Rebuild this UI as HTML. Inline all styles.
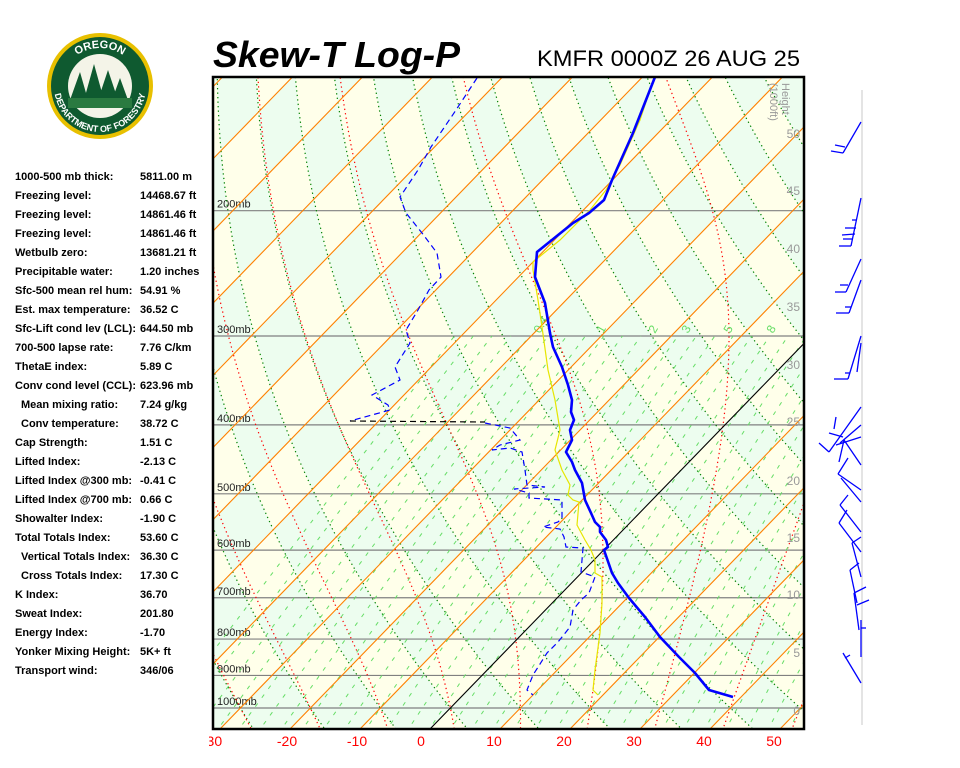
<!DOCTYPE html>
<html><head><meta charset="utf-8"><style>
html,body{margin:0;padding:0;background:#fff;width:960px;height:768px;overflow:hidden}
svg{display:block}
text{font-family:"Liberation Sans",Arial,sans-serif}
</style></head><body>
<svg id="s" width="960" height="768" viewBox="0 0 960 768" xmlns="http://www.w3.org/2000/svg">
<defs><clipPath id="c"><rect x="213" y="77" width="591" height="652"/></clipPath>
<clipPath id="lc"><rect x="209" y="730" width="700" height="30"/></clipPath>
<path id="arcT" d="M60,88 A40,40 0 0 1 140,88"/>
<path id="arcB" d="M54,86 A46,46 0 0 0 146,86"/></defs>
<!-- logo -->
<circle cx="100" cy="86" r="53" fill="#e8c000"/>
<circle cx="100" cy="86" r="49" fill="#0f5a30"/>
<circle cx="100" cy="86" r="32" fill="#f4f4e8"/>
<path d="M70,100 L80,72 L88,100Z M84,100 L94,64 L104,100Z M98,100 L108,70 L118,100Z M112,100 L120,78 L128,100Z" fill="#0f5a30"/>
<rect x="68" y="98" width="64" height="10" fill="#2a7a40"/>
<text font-size="11" font-weight="bold" fill="#fff"><textPath href="#arcT" startOffset="50%" text-anchor="middle">OREGON</textPath></text>
<text font-size="9" font-weight="bold" fill="#fff"><textPath href="#arcB" startOffset="50%" text-anchor="middle">DEPARTMENT OF FORESTRY</textPath></text>
<!-- titles -->
<text x="213" y="67" font-size="36" font-weight="bold" font-style="italic" textLength="247" lengthAdjust="spacingAndGlyphs">Skew-T Log-P</text>
<text x="537" y="66" font-size="22" textLength="263" lengthAdjust="spacingAndGlyphs">KMFR 0000Z 26 AUG 25</text>
<g id="left" font-size="11" font-weight="bold"></g>
<g clip-path="url(#c)" id="plot"></g>
<rect x="213" y="77" width="591" height="652" fill="none" stroke="#000" stroke-width="2.5"/>
<g id="axis" font-size="14" fill="#f00" text-anchor="middle" clip-path="url(#lc)"></g>
<line x1="862" y1="90" x2="862" y2="725" stroke="#e4e4e4" stroke-width="2"/>
<g id="barbs" stroke="#0000ff" stroke-width="1.3" fill="none"></g>
</svg>
<script>
const NS='http://www.w3.org/2000/svg';
const Y=p=>708-309*Math.log(1000/p);
const X=(T,p)=>430+7*T+0.97*(729-Y(p));
function el(parent,tag,attrs,txt){const e=document.createElementNS(NS,tag);for(const k in attrs)e.setAttribute(k,attrs[k]);if(txt!==undefined)e.textContent=txt;parent.appendChild(e);return e;}
const plot=document.getElementById('plot');
el(plot,'rect',{x:213,y:77,width:591,height:652,fill:'#edfdef'});
const ps=[];for(let p=1200;p>=85;p*=0.97)ps.push(p);ps.push(85);
let d='';
for(let T=-200;T<=60;T+=20){d+=`M${X(T,1200)},${Y(1200)}L${X(T,85)},${Y(85)}L${X(T+10,85)},${Y(85)}L${X(T+10,1200)},${Y(1200)}Z`;}
const dryT=(th,p)=>(th+273.15)*Math.pow(p/1000,0.2857)-273.15;
for(let th=-60;th<=220;th+=20){let a=ps.map(p=>[X(dryT(th,p),p),Y(p)]);let b=ps.slice().reverse().map(p=>[X(dryT(th+10,p),p),Y(p)]);d+='M'+a.concat(b).map(q=>q[0].toFixed(1)+','+q[1].toFixed(1)).join('L')+'Z';}
el(plot,'path',{d:d,fill:'#ffffea','fill-rule':'evenodd'});
// pressure lines
[1000,900,800,700,600,500,400,300,200].forEach(p=>{el(plot,'line',{x1:213,x2:804,y1:Y(p),y2:Y(p),stroke:'#808080','stroke-width':1.2});el(plot,'text',{x:217,y:Y(p)-3,'font-size':11,fill:'#222'},p+'mb');});
// dry adiabats
for(let th=-60;th<=230;th+=10){el(plot,'polyline',{points:ps.map(p=>X(dryT(th,p),p).toFixed(1)+','+Y(p).toFixed(1)).join(' '),fill:'none',stroke:'#008000','stroke-width':1.2,'stroke-dasharray':'1.3,3.2'});}
// moist adiabats
const es=t=>6.112*Math.exp(17.67*t/(t+243.5));
function moist(T0){const out=[];let T=T0+273.15;for(let p=1000;p>=85;p-=2){out.push([p,T-273.15]);const e=es(T-273.15);const rs=0.622*e/(p-e);const g=(287*T+2.5e6*rs)/(p*(1004+2.5e6*2.5e6*rs*0.622/(287*T*T)));T-=g*2;}
 const dn=[];T=T0+273.15;for(let p=1000;p<=1200;p+=2){dn.push([p,T-273.15]);const e=es(T-273.15);const rs=0.622*e/(p-e);const g=(287*T+2.5e6*rs)/(p*(1004+2.5e6*2.5e6*rs*0.622/(287*T*T)));T+=g*2;}
 return dn.reverse().concat(out);}
for(let t=-40;t<=60;t+=10){el(plot,'polyline',{points:moist(t).map(q=>X(q[1],q[0]).toFixed(1)+','+Y(q[0]).toFixed(1)).join(' '),fill:'none',stroke:'#ff0000','stroke-width':1.2,'stroke-dasharray':'1.3,3.2'});}
// mixing ratio lines
for(let td=-40;td<=56;td+=3){const e0=es(td);const w=622*e0/(1000-e0);const pts=[];for(let p=1150;p>=300;p-=10){const e=p*w/(622+w);const l=Math.log(e/6.112);const T=243.5*l/(17.67-l);pts.push(X(T,p).toFixed(1)+','+Y(p).toFixed(1));}
 el(plot,'polyline',{points:pts.join(' '),fill:'none',stroke:'#66dd66','stroke-width':1,'stroke-dasharray':'4,7'});}
[['0.4',540],['1',603],['2',655],['3',688],['5',730],['8',773]].forEach(a=>{el(plot,'text',{x:a[1],y:334,'font-size':12,fill:'#66dd66',transform:`rotate(-60 ${a[1]} 334)`},a[0]);});
// isotherms
for(let T=-170;T<=60;T+=10){el(plot,'line',{x1:X(T,1200),y1:Y(1200),x2:X(T,85),y2:Y(85),stroke:T==0?'#000':'#ff8000','stroke-width':1.1});}
// height labels
[[0,710],[5,652],[10,594],[15,537],[20,480],[25,421],[30,364],[35,306],[40,248],[45,190],[50,133]].forEach(a=>{el(plot,'text',{x:800,y:a[1]+5,'font-size':12,fill:'#999','text-anchor':'end'},a[0]);});
el(plot,'text',{x:782,y:83,'font-size':11,fill:'#999',transform:'rotate(90 782 83)'},'Height');
el(plot,'text',{x:770,y:83,'font-size':11,fill:'#999',transform:'rotate(90 770 83)'},'(1000ft)');
// profiles
const P=a=>a.map(q=>q.join(',')).join(' ');
el(plot,'polyline',{points:P([[654,78],[640,120],[620,165],[606,190],[590,210],[560,240],[533,262],[533,270],[538,300],[541,320],[548,370],[555,400],[560,430],[555,450],[562,470],[570,485],[568,495],[573,500],[579,502],[577,525],[585,540],[591,550],[595,560],[595,573],[602,577],[602,603],[600,633],[595,670],[593,690],[598,695]]),fill:'none',stroke:'#e6e600','stroke-width':1.2});
el(plot,'polyline',{points:P([[477,78],[456,110],[431,147],[418,170],[400,197],[406,213],[422,233],[437,253],[441,277],[429,290],[418,310],[406,330],[410,343],[395,367],[400,380],[372,395],[388,405],[390,410],[350,421]]),fill:'none',stroke:'#0000ff','stroke-width':1.2,'stroke-dasharray':'6,4'});
el(plot,'line',{x1:350,y1:421,x2:485,y2:422,stroke:'#000','stroke-width':1.2,'stroke-dasharray':'6,4'});
el(plot,'polyline',{points:P([[485,423],[510,428],[520,440],[500,445],[492,450],[510,448],[522,452],[525,470],[527,485],[545,487],[514,489],[529,493],[529,498],[562,500],[562,518],[558,522],[543,527],[560,529],[564,537],[566,547],[583,548],[581,572],[595,577],[589,593],[581,600],[573,610],[570,627],[558,642],[547,653],[533,675],[527,690],[533,695]]),fill:'none',stroke:'#0000ff','stroke-width':1.2,'stroke-dasharray':'6,4'});
el(plot,'polyline',{points:P([[655,77],[633,133],[612,180],[604,200],[589,213],[573,223],[537,252],[535,277],[545,303],[550,333],[553,347],[562,367],[568,385],[572,400],[571,412],[574,420],[570,430],[572,440],[566,452],[572,462],[575,470],[582,483],[585,500],[591,513],[595,522],[600,527],[600,532],[606,540],[608,547],[604,550],[612,573],[618,583],[629,598],[645,617],[660,637],[679,657],[695,673],[709,690],[733,697]]),fill:'none',stroke:'#0000ff','stroke-width':2.6,'stroke-linejoin':'round'});
// axis labels
const ax=document.getElementById('axis');
[[-30,212],[-20,287],[-10,357],[0,421],[10,494],[20,564],[30,634],[40,704],[50,774]].forEach(a=>el(ax,'text',{x:a[1],y:746},a[0]));
// left text
const rows=[["1000-500 mb thick:","5811.00 m",0],["Freezing level:","14468.67 ft",0],["Freezing level:","14861.46 ft",0],["Freezing level:","14861.46 ft",0],["Wetbulb zero:","13681.21 ft",0],["Precipitable water:","1.20 inches",0],["Sfc-500 mean rel hum:","54.91 %",0],["Est. max temperature:","36.52 C",0],["Sfc-Lift cond lev (LCL):","644.50 mb",0],["700-500 lapse rate:","7.76 C/km",0],["ThetaE index:","5.89 C",0],["Conv cond level (CCL):","623.96 mb",0],["Mean mixing ratio:","7.24 g/kg",1],["Conv temperature:","38.72 C",1],["Cap Strength:","1.51 C",0],["Lifted Index:","-2.13 C",0],["Lifted Index @300 mb:","-0.41 C",0],["Lifted Index @700 mb:","0.66 C",0],["Showalter Index:","-1.90 C",0],["Total Totals Index:","53.60 C",0],["Vertical Totals Index:","36.30 C",1],["Cross Totals Index:","17.30 C",1],["K Index:","36.70",0],["Sweat Index:","201.80",0],["Energy Index:","-1.70",0],["Yonker Mixing Height:","5K+ ft",0],["Transport wind:","346/06",0]];
const lg=document.getElementById('left');
rows.forEach((r,i)=>{const y=180+19*i;el(lg,'text',{x:r[2]?21:15,y:y},r[0]);el(lg,'text',{x:140,y:y},r[1]);});
// barbs
const segs=[[861,122,843,153],[843,153,831,151],[845,147,835,145],
[861,198,851,246],[851,246,839,246],[853,239,843,239],[855,234,842,235],[856,228,845,228],[857,220,852,220],
[861,259,846,292],[846,292,835,292],[848,285,840,285],
[861,280,849,313],[849,313,836,313],[851,307,845,307],
[861,336,848,379],[848,379,834,379],[850,373,845,373],[861,343,857,372],
[861,407,829,452],[829,452,819,443],[861,425,840,443],[861,437,836,445],[836,417,834,429],[829,433,843,437],
[861,465,844,440],[844,440,839,462],[861,490,838,474],[838,474,848,458],[861,502,841,478],
[861,532,840,505],[840,505,848,495],[839,523,847,510],[839,523,861,552],
[861,537,852,543],[852,543,861,577],[850,570,859,563],[850,570,857,603],
[854,593,866,587],[854,593,859,630],[857,605,869,600],[861,620,861,657],[861,628,866,628],
[843,653,861,683],[845,658,850,655]];
const bg=document.getElementById('barbs');
segs.forEach(s=>el(bg,'line',{x1:s[0],y1:s[1],x2:s[2],y2:s[3]}));
</script>
</body></html>
